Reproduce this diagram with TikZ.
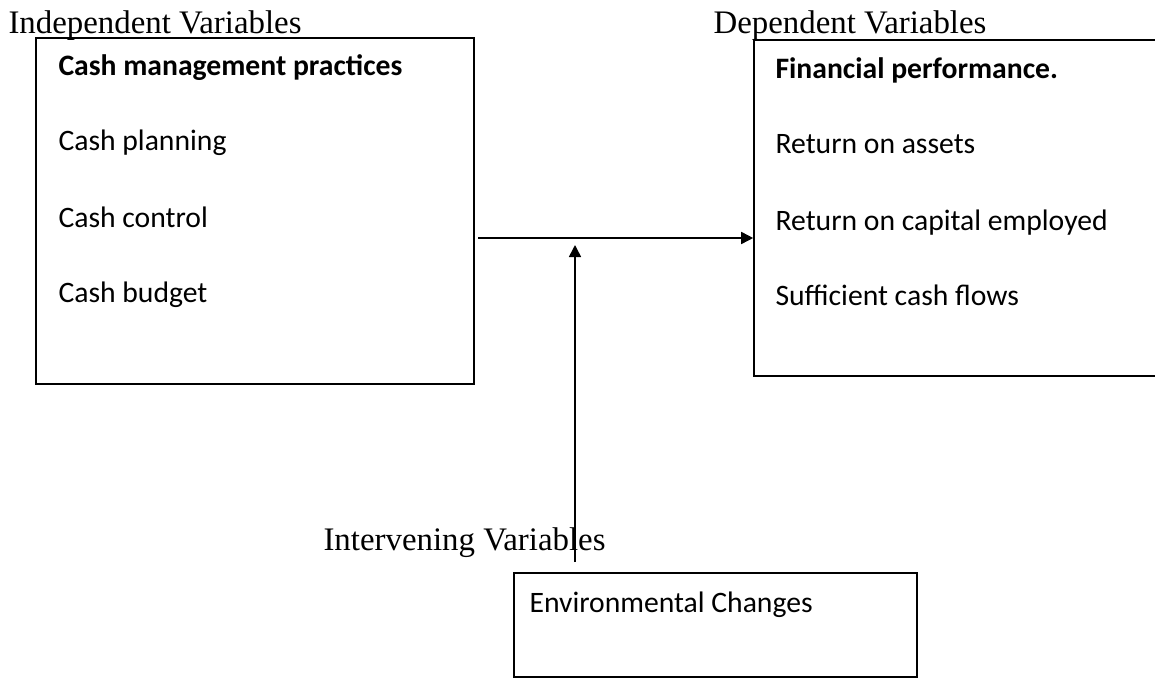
\documentclass[tikz,border=0pt]{standalone}
\usepackage{fontspec}
\setmainfont{Liberation Serif}
\newfontfamily\calibri{Carlito}
\usetikzlibrary{arrows.meta,fit}

\begin{document}
\begin{tikzpicture}[x=0.01316cm,y=-0.01316cm,>={Triangle[length=4.5pt,width=4.5pt]},
		varbox/.style={draw,line width=0.6pt,inner sep=0pt},
		heading/.style={anchor=base west,inner sep=0pt,font=\fontsize{12.3}{14}\selectfont},
		item/.style={anchor=base west,inner sep=0pt,font=\calibri\fontsize{11.1}{13}\selectfont}]
	\useasboundingbox (0,0) rectangle (1155,680);
	% Các khung biến
	\node[varbox,fit={(36,38) (474,384)}] (indep) {};
	\node[varbox,fit={(754,40) (1175,376)}] (dep) {};
	\node[varbox,fit={(514,573) (917,677)}] (interv) {};
	% Tiêu đề
	\node[heading] (indeplabel) at (8,33) {Independent Variables};
	\node[heading] (deplabel) at (713,33) {Dependent Variables};
	\node[heading] (intervlabel) at (323,550) {Intervening Variables};
	% Nội dung các khung
	\node[item] (cashmgmt) at (58,75) {\bfseries Cash management practices};
	\node[item] (plan) at (58,150) {Cash planning};
	\node[item] (control) at (58,227) {Cash control};
	\node[item] (budget) at (58,302) {Cash budget};
	\node[item] (finperf) at (775,78) {\bfseries Financial performance.};
	\node[item] (roa) at (775,153) {Return on assets};
	\node[item] (roce) at (775,230) {Return on capital employed};
	\node[item] (flows) at (775,305) {Sufficient cash flows};
	\node[item] (envchg) at (529,612) {Environmental Changes};
	% Mũi tên
	\coordinate (hstart) at (478,238);
	\coordinate (vstart) at (575,562);
	\coordinate (vend) at (575,245);
	\draw[->,line width=0.6pt] (hstart) -- (hstart -| dep.west);
	\draw[->,line width=0.6pt] (vstart) -- (vend);
\end{tikzpicture}
\end{document}
